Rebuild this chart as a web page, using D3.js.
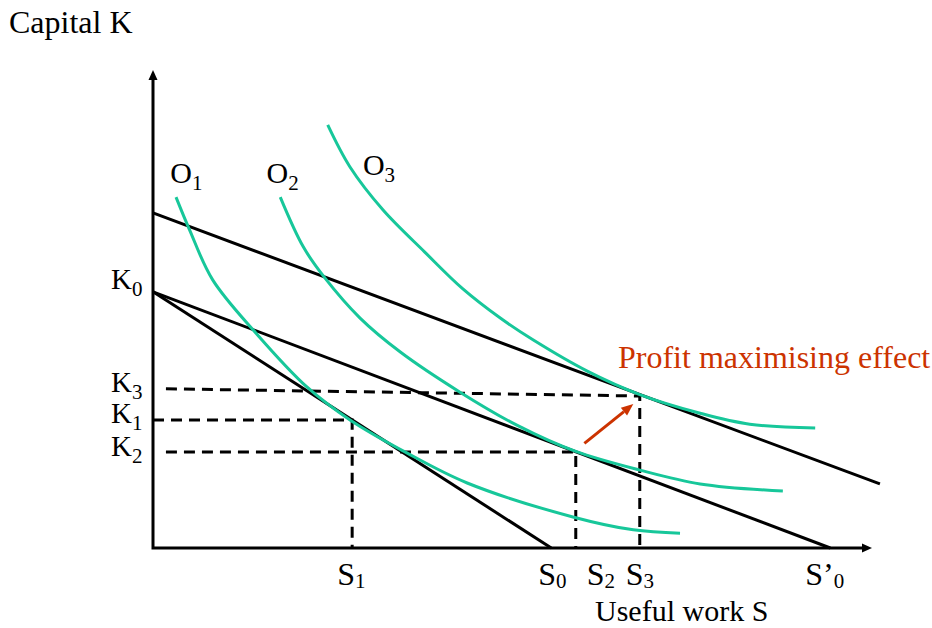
<!DOCTYPE html>
<html lang="en">
<head>
  <meta charset="UTF-8">
  <title>Isoquants and budget lines</title>
  <script src="https://d3js.org/d3.v7.min.js"></script>
  <style>
    body {
      margin: 0;
      background: #fff;
    }

    svg {
      display: block;
      font-family: 'Liberation Serif', 'Times New Roman', serif;
    }

    .axis-line, .budget {
      fill: none;
      stroke: #000;
      stroke-width: 3px;
    }

    .guide {
      fill: none;
      stroke: #000;
      stroke-width: 3px;
      stroke-dasharray: 11 7;
    }

    .iso {
      fill: none;
      stroke: #17c79a;
      stroke-width: 3px;
    }
  </style>
</head>
<body>

<svg width="932" height="628"></svg>

<script>
// values in chart units (S across, K up)
const budgetUpper = [[0, 70.1], [101.1, 13.4]];
const budgetMiddle = [[0, 53.6], [94.2, 0]];
const budgetSteep = [[0, 53.6], [55.4, 0]];

const isoO1 = [[3.2, 73.4], [5.1, 66.5], [8.3, 56.1], [14.3, 45.0], [21.4, 33.7], [27.4, 26.8],
  [35.3, 19.9], [43.7, 13.6], [58.4, 6.5], [66.8, 3.8], [73.3, 3.1]];
const isoO2 = [[17.7, 73.4], [20.9, 63.0], [23.9, 56.5], [28.8, 48.1], [34.4, 41.0], [42.7, 32.6],
  [50.6, 25.7], [58.8, 20.2], [67.7, 16.3], [76.1, 13.4], [87.6, 11.9]];
const isoO3 = [[24.3, 88.5], [27.4, 79.7], [32.0, 70.7], [37.8, 61.9], [43.1, 54.2], [48.3, 48.1],
  [52.9, 43.5], [60.4, 37.0], [67.7, 32.1], [76.1, 28.2], [83.0, 25.9], [92.1, 25.1]];

// dashed guides
const guideK3 = [[1.8, 33.3], [67.7, 31.8], [67.7, 0]];
const guideK1 = [[0, 26.8], [27.7, 26.8], [27.7, 0]];
const guideK2 = [[1.8, 20.1], [58.8, 20.1], [58.8, 0]];

// arrow for the profit maximising effect
const effectArrow = [[60.0, 21.9], [66.8, 30.1]];

const kLabels = [
  { main: "K", sub: "0", k: 53.6 },
  { main: "K", sub: "3", k: 33.3 },
  { main: "K", sub: "1", k: 26.8 },
  { main: "K", sub: "2", k: 20.1 }
];
const sLabels = [
  { main: "S", sub: "1", s: 27.7 },
  { main: "S", sub: "0", s: 55.4 },
  { main: "S", sub: "2", s: 58.8 },
  { main: "S", sub: "3", s: 67.7 },
  { main: "S\u2019", sub: "0", s: 94.2 }
];
const oLabels = [
  { main: "O", sub: "1", at: [2.4, 76.4] },
  { main: "O", sub: "2", at: [15.8, 76.4] },
  { main: "O", sub: "3", at: [29.2, 78.0] }
];

const svg = d3.select("svg");

const x = d3.scaleLinear().domain([0, 100]).range([153, 872]);
const y = d3.scaleLinear().domain([0, 100]).range([548, 70]);

const line = d3.line().x(d => x(d[0])).y(d => y(d[1]));
const curve = d3.line().x(d => x(d[0])).y(d => y(d[1])).curve(d3.curveCatmullRom.alpha(0.5));

// axes with arrow heads
svg.append("path").attr("class", "axis-line")
  .attr("d", line([[0, 98.3], [0, 0], [98.8, 0]]));

svg.append("path")
  .attr("d", `M${x(0)},${y(100)} l-4.5,10 l9,0 Z`)
  .attr("fill", "#000");
svg.append("path")
  .attr("d", `M${x(100)},${y(0)} l-10,-4.5 l0,9 Z`)
  .attr("fill", "#000");

// dashed guides
[guideK3, guideK1, guideK2].forEach(g => {
  svg.append("path").attr("class", "guide").attr("d", line(g));
});

// budget lines
[budgetUpper, budgetMiddle, budgetSteep].forEach(b => {
  svg.append("path").attr("class", "budget").attr("d", line(b));
});

// isoquants
[isoO1, isoO2, isoO3].forEach(c => {
  svg.append("path").attr("class", "iso").attr("d", curve(c));
});

// red arrow
const red = "#cc3300";
const [a0, a1] = effectArrow.map(d => [x(d[0]), y(d[1])]);
const ang = Math.atan2(a1[1] - a0[1], a1[0] - a0[0]);
const headLen = 12, headW = 5;
const base = [a1[0] - headLen * Math.cos(ang), a1[1] - headLen * Math.sin(ang)];
svg.append("line")
  .attr("x1", a0[0]).attr("y1", a0[1])
  .attr("x2", base[0]).attr("y2", base[1])
  .attr("stroke", red).attr("stroke-width", 3);
svg.append("path")
  .attr("fill", red)
  .attr("d", `M${a1[0]},${a1[1]}` +
    `L${base[0] - headW * Math.sin(ang)},${base[1] + headW * Math.cos(ang)}` +
    `L${base[0] + headW * Math.sin(ang)},${base[1] - headW * Math.cos(ang)}Z`);

// labels
function subLabel(sel, d, size, subSize, dy) {
  sel.append("tspan").text(d.main);
  sel.append("tspan").attr("font-size", subSize).attr("dy", dy).text(d.sub);
  sel.attr("font-size", size);
}

const kOffsets = [-3, 3, 3, 4];
kLabels.forEach((d, i) => {
  const t = svg.append("text")
    .attr("x", 111)
    .attr("y", y(d.k) + kOffsets[i]);
  subLabel(t, d, 29, 21, 7);
});

const sOffsets = [-15, -13, 11, -14, -25];
sLabels.forEach((d, i) => {
  const t = svg.append("text")
    .attr("x", x(d.s) + sOffsets[i])
    .attr("y", 585);
  subLabel(t, d, 32, 21, 3);
});

oLabels.forEach(d => {
  const t = svg.append("text")
    .attr("x", x(d.at[0]))
    .attr("y", y(d.at[1]));
  subLabel(t, d, 30, 21, 7);
});

svg.append("text")
  .attr("x", 9).attr("y", 33)
  .attr("font-size", 32)
  .text("Capital K");

svg.append("text")
  .attr("x", 595).attr("y", 621)
  .attr("font-size", 30)
  .text("Useful work S");

svg.append("text")
  .attr("x", 618).attr("y", 368)
  .attr("font-size", 32)
  .attr("fill", red)
  .text("Profit maximising effect");
</script>

</body>
</html>
